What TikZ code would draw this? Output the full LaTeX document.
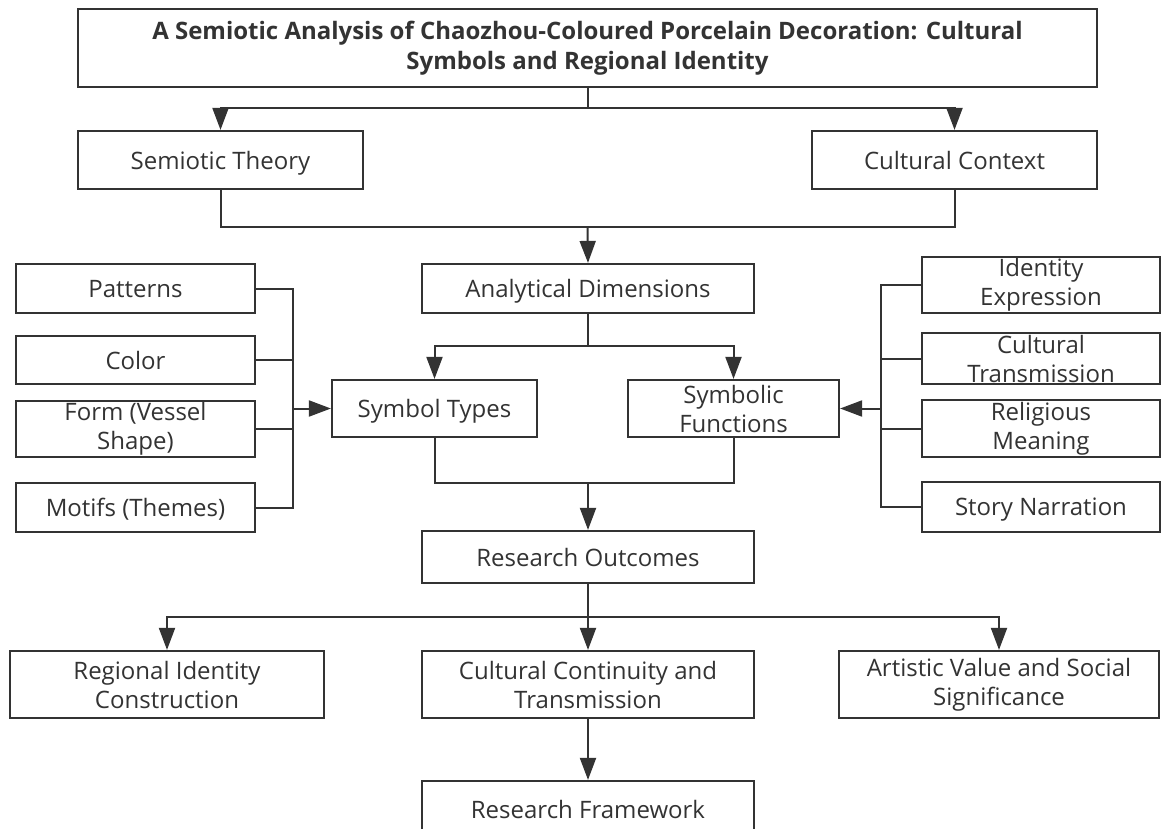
\documentclass[tikz,border=0pt]{standalone}
\usepackage{fontspec}
\setmainfont{Open Sans}
\usetikzlibrary{arrows.meta}
\definecolor{ink}{HTML}{333333}
\tikzset{
  box/.style={draw=ink, line width=2.2pt, fill=white, align=center, inner sep=0pt,
    text=ink, font=\fontsize{24}{29}\selectfont},
  onebox/.style={box, text depth=0pt},
  conn/.style={draw=ink, line width=2pt},
  arr/.style={conn, -{Triangle[length=22pt,width=16pt]}}
}
\begin{document}
\begin{tikzpicture}[x=1pt,y=-1pt]
  \useasboundingbox (0,0) rectangle (1161,829);
  \clip (0,0) rectangle (1161,829);

  % top
  \node[box, minimum width=1019pt, minimum height=78pt,
    font=\fontsize{24}{30}\selectfont\bfseries] (title) at (587.5,48)
    {A Semiotic Analysis of Chaozhou-Coloured Porcelain Decoration: Cultural\\Symbols and Regional Identity};
  \node[onebox, minimum width=285pt, minimum height=58pt] (theory) at (220.5,160) {Semiotic Theory};
  \node[onebox, minimum width=285pt, minimum height=58pt] (context) at (954.5,160) {Cultural Context};
  \node[onebox, minimum width=332pt, minimum height=49pt] (dims) at (588,288.5) {Analytical Dimensions};

  % left column
  \node[onebox, minimum width=239pt, minimum height=49pt] (patterns) at (135.5,288.5) {Patterns};
  \node[onebox, minimum width=239pt, minimum height=48pt] (color) at (135.5,360) {Color};
  \node[box, minimum width=239pt, minimum height=56pt] (form) at (135.5,429) {Form (Vessel\\Shape)};
  \node[onebox, minimum width=239pt, minimum height=49pt] (motifs) at (135.5,507.5) {Motifs (Themes)};

  % middle
  \node[onebox, minimum width=205pt, minimum height=57pt] (types) at (434.5,408.5) {Symbol Types};
  \node[box, minimum width=211pt, minimum height=57pt] (funcs) at (733.5,408.5) {Symbolic\\Functions};

  % right column
  \node[box, minimum width=238pt, minimum height=56pt] (identity) at (1041,285) {Identity\\Expression};
  \node[box, minimum width=238pt, minimum height=51pt] (transm) at (1041,358.5) {Cultural\\Transmission};
  \node[box, minimum width=238pt, minimum height=57pt] (relig) at (1041,428.5) {Religious\\Meaning};
  \node[onebox, minimum width=238pt, minimum height=50pt] (story) at (1041,507) {Story Narration};

  % bottom
  \node[onebox, minimum width=332pt, minimum height=52pt] (outcomes) at (588,557) {Research Outcomes};
  \node[box, minimum width=314pt, minimum height=67pt] (regional) at (167,684.5) {Regional Identity\\Construction};
  \node[box, minimum width=332pt, minimum height=67pt] (contin) at (588,684.5) {Cultural Continuity and\\Transmission};
  \node[box, minimum width=320pt, minimum height=67pt] (artistic) at (999,684.5) {Artistic Value and Social\\Significance};
  \node[onebox, minimum width=332pt, minimum height=56pt] (frame) at (588,809) {Research Framework};

  % junctions
  \coordinate (j1) at (587.5,108);
  \coordinate (j2) at (587.5,227);
  \coordinate (j3) at (588,346);
  \coordinate (lb) at (293,408.5);
  \coordinate (rb) at (881,408.5);
  \coordinate (j4) at (588,483);
  \coordinate (j5) at (588,617);

  \draw[conn] (title.south) -- (j1);
  \draw[arr] (j1) -| (theory.north);
  \draw[arr] (j1) -| (context.north);

  \draw[conn] (theory.south) |- (j2);
  \draw[conn] (context.south) |- (j2);
  \draw[arr] (j2) -- (dims.north);

  \draw[conn] (dims.south) -- (j3);
  \draw[arr] (j3) -| (types.north);
  \draw[arr] (j3) -| (funcs.north);

  \draw[conn] (patterns.east) -| (lb);
  \draw[conn] (motifs.east) -| (lb);
  \draw[conn] (color.east) -- (color.east -| lb);
  \draw[conn] (form.east) -- (form.east -| lb);
  \draw[arr] (lb) -- (types.west);

  \draw[conn] (identity.west) -| (rb);
  \draw[conn] (story.west) -| (rb);
  \draw[conn] (transm.west) -- (transm.west -| rb);
  \draw[conn] (relig.west) -- (relig.west -| rb);
  \draw[arr] (rb) -- (funcs.east);

  \draw[conn] (types.south) |- (j4);
  \draw[conn] (funcs.south) |- (j4);
  \draw[arr] (j4) -- (outcomes.north);

  \draw[conn] (outcomes.south) -- (j5);
  \draw[arr] (j5) -| (regional.north);
  \draw[arr] (j5) -- (contin.north);
  \draw[arr] (j5) -| (artistic.north);

  \draw[arr] (contin.south) -- (frame.north);
\end{tikzpicture}
\end{document}
